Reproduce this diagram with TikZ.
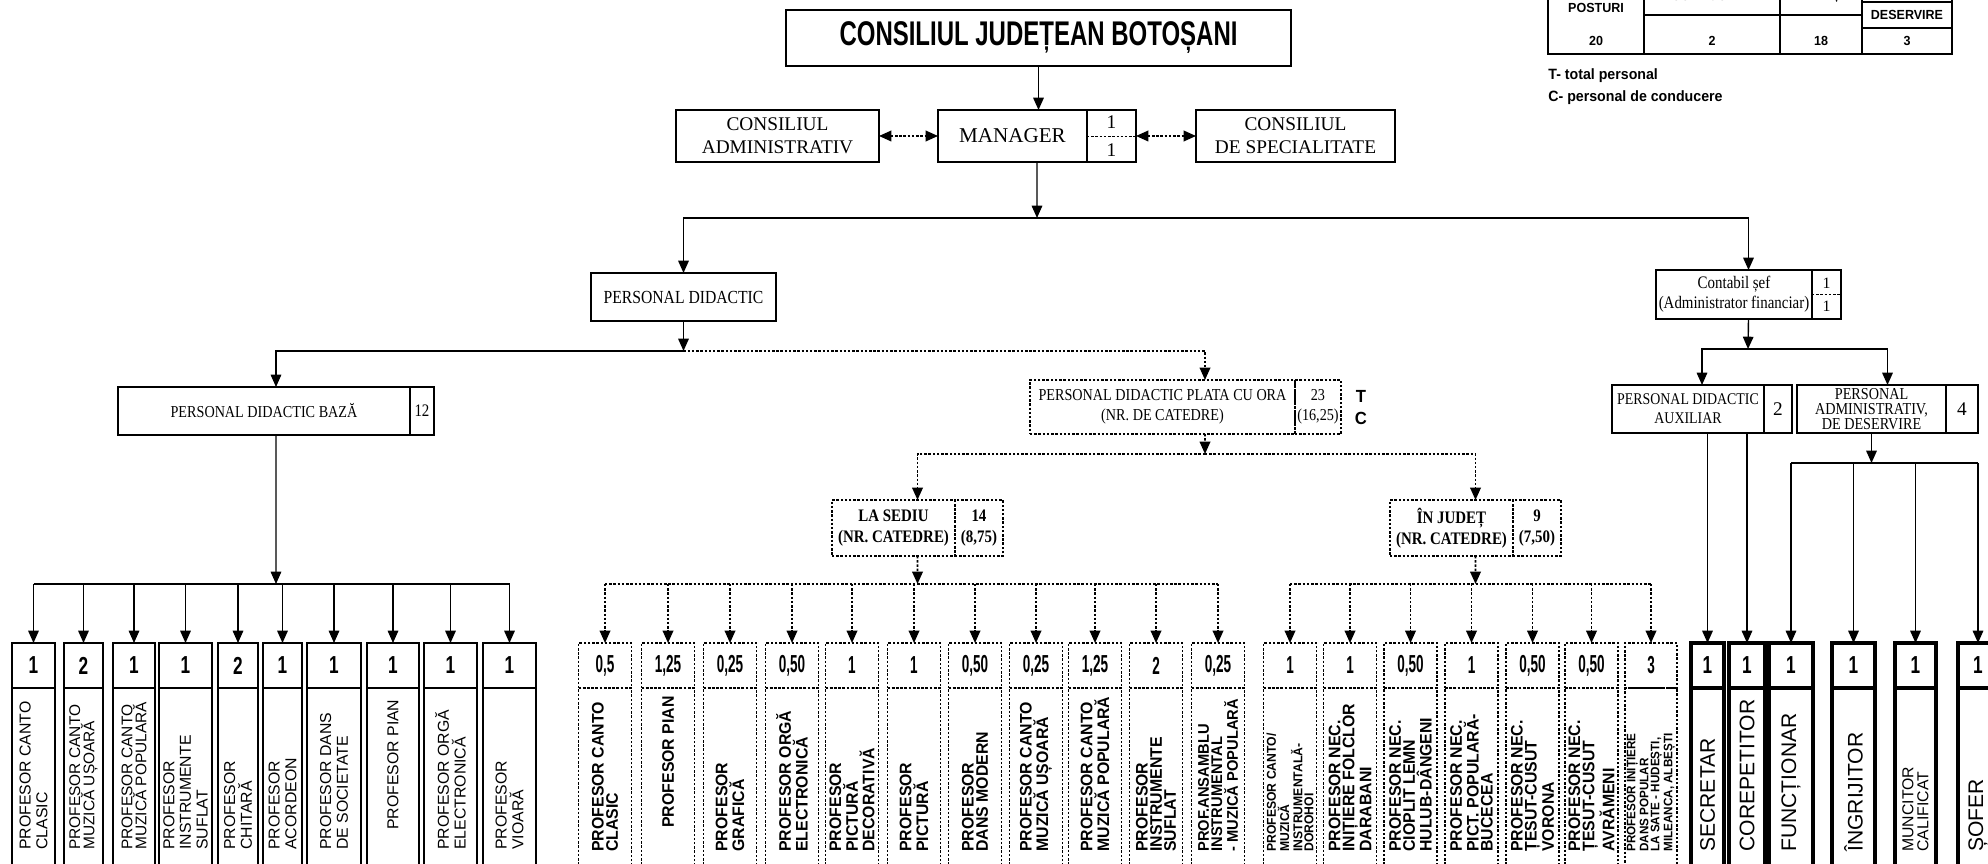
\documentclass[tikz,border=0pt]{standalone}
\usepackage{fontspec}
\setmainfont{Liberation Serif}
\setsansfont{Liberation Sans}
\newfontfamily\serifn[FakeStretch=0.85]{Liberation Serif}
\newfontfamily\conda[FakeStretch=0.7]{Liberation Sans}
\newfontfamily\condb[FakeStretch=0.55]{Liberation Sans}
\newfontfamily\condc[FakeStretch=0.95]{Liberation Sans}
\usetikzlibrary{positioning,arrows.meta,calc}

\tikzset{
  box/.style={draw, line width=1pt, outer sep=0pt, inner sep=1pt, align=center,
    font=\fontsize{11}{13}\selectfont},
  dotline/.style={dash pattern=on 1.4pt off 1pt},
  dbox/.style={box, dotline},
  link/.style={line width=.8pt},
  dlink/.style={line width=1pt, dotline},
  arr/.style={link, -{Triangle[width=6pt,length=7pt]}},
  darr/.style={dlink, -{Triangle[width=6pt,length=7pt]}},
  biarr/.style={dlink, {Triangle[width=6pt,length=7pt]}-{Triangle[width=6pt,length=7pt]}},
  lnum/.style={box, minimum height=.9cm, font=\conda\bfseries\fontsize{14}{14}\selectfont},
  lcell/.style={box, minimum height=3.84cm},
  ltxt/.style={rotate=90, anchor=west, align=left, inner sep=0pt,
    font=\sffamily\fontsize{9}{9.5}\selectfont},
  dnum/.style={lnum, dotline, font=\condb\bfseries\fontsize{14}{14}\selectfont},
  dcell/.style={lcell, dotline},
  dtxt/.style={ltxt, font=\condc\bfseries\fontsize{9.5}{8}\selectfont},
  rnum/.style={lnum, line width=1.8pt},
  rcell/.style={lcell, line width=1.8pt},
  rtxt/.style={ltxt, font=\sffamily\fontsize{12}{12}\selectfont},
  note/.style={inner sep=0pt, font=\condc\bfseries\fontsize{7.5}{9}\selectfont},
}

\begin{document}
\begin{tikzpicture}[x=0.02cm, y=-0.02cm]
    \useasboundingbox (0,0) rectangle (1988,864);
    \fill[white] (0,0) rectangle (1988,864);
    \clip (0,0) rectangle (1988,864);

    % conducere
    \node[box, minimum width=10.1cm, minimum height=1.12cm, font=\conda\bfseries\fontsize{19.5}{22}\selectfont] (cjb) at (1038.5,38) {CONSILIUL JUDEȚEAN BOTOȘANI};
    \node[box, minimum width=4.06cm, minimum height=1.04cm] (cadm) at (777.5,136) {CONSILIUL\\ADMINISTRATIV};
    \node[box, minimum width=2.98cm, minimum height=1.04cm, font=\fontsize{12}{14}\selectfont] (mgr) at (1012.5,136) {MANAGER};
    \node[box, minimum width=.98cm, minimum height=1.04cm, right=0pt of mgr] (mgrn) {1\\[3pt]1};
    \node[box, minimum width=3.98cm, minimum height=1.04cm] (cspec) at (1295.5,136) {CONSILIUL\\DE SPECIALITATE};
    \draw[line width=.5pt, dotline] (mgrn.west) -- (mgrn.east);

    \draw[arr] (cjb.south) -- (cjb.south |- mgr.north);
    \draw[biarr] (cadm.east) -- (mgr.west);
    \draw[biarr] (mgrn.east) -- (cspec.west);

    \node[box, minimum width=3.7cm, minimum height=.96cm, font=\serifn\fontsize{10.5}{12}\selectfont] (pd) at (683.5,297) {PERSONAL DIDACTIC};
    \node[box, minimum width=3.12cm, minimum height=.98cm, font=\serifn\fontsize{10}{11.5}\selectfont] (cont) at (1734,294.5) {Contabil șef\\(Administrator financiar)};
    \node[box, minimum width=.58cm, minimum height=.98cm, right=0pt of cont, font=\fontsize{9}{13}\selectfont] (contn) {1\\1};
    \draw[line width=.5pt, dotline] (contn.west) -- (contn.east);

    \coordinate (mbus) at (1037,218);
    \draw[arr] ($(mgr.south west)!.5!(mgrn.south east)$) -- (mbus);
    \draw[arr] (mbus) -| (pd.north);
    \draw[arr] (mbus) -| ($(cont.north west)!.5!(contn.north east)$);

    % personal didactic
    \node[box, minimum width=5.84cm, minimum height=.96cm, font=\serifn\fontsize{9.5}{11}\selectfont] (baza) at (264,411) {PERSONAL DIDACTIC BAZĂ};
    \node[box, minimum width=.48cm, minimum height=.96cm, right=0pt of baza, font=\serifn\fontsize{10}{11}\selectfont] (bazan) {12};
    \node[dbox, minimum width=5.3cm, minimum height=1.08cm, font=\serifn\fontsize{9.5}{11.5}\selectfont] (plata) at (1162.5,407) {PERSONAL DIDACTIC PLATA CU ORA\\(NR. DE CATEDRE)};
    \node[dbox, minimum width=.92cm, minimum height=1.08cm, right=0pt of plata, font=\serifn\fontsize{9.5}{11.5}\selectfont] (platan) {23\\(16,25)};
    \node[note, font=\condc\bfseries\fontsize{10}{10}\selectfont] (lblT) at (1361,396) {T};
    \node[note, font=\condc\bfseries\fontsize{10}{10}\selectfont] (lblC) at (1361,418) {C};

    \coordinate (pbus) at (683.5,351);
    \draw[arr] (pd.south) -- (pbus);
    \draw[arr] (pbus) -| ($(baza.north west)!.5!(bazan.north east)$);
    \draw[darr] (pbus) -| ([xshift=.85cm]plata.north);

    \node[dbox, minimum width=2.46cm, minimum height=1.12cm, font=\serifn\bfseries\fontsize{10}{12}\selectfont] (sed) at (893.5,528) {LA SEDIU\\(NR. CATEDRE)};
    \node[dbox, minimum width=.96cm, minimum height=1.12cm, right=0pt of sed, font=\serifn\bfseries\fontsize{10}{12}\selectfont] (sedn) {14\\(8,75)};
    \node[dbox, minimum width=2.46cm, minimum height=1.12cm, font=\serifn\bfseries\fontsize{10}{12}\selectfont] (jud) at (1451.5,528) {ÎN JUDEȚ\\(NR. CATEDRE)};
    \node[dbox, minimum width=.96cm, minimum height=1.12cm, right=0pt of jud, font=\serifn\bfseries\fontsize{10}{12}\selectfont] (judn) {9\\(7,50)};

    \coordinate (sbus) at (1205,454);
    \draw[darr] ([xshift=.85cm]plata.south) -- (sbus);
    \draw[darr] (sbus) -| ($(sed.north west)!.5!(sedn.north east)$);
    \draw[darr] (sbus) -| ($(jud.north west)!.5!(judn.north east)$);

    % contabilitate
    \node[box, minimum width=3.04cm, minimum height=.96cm, font=\serifn\fontsize{9.3}{11}\selectfont] (aux) at (1688,409) {PERSONAL DIDACTIC\\AUXILIAR};
    \node[box, minimum width=.56cm, minimum height=.96cm, right=0pt of aux] (auxn) {2};
    \node[box, minimum width=2.98cm, minimum height=.96cm, inner sep=0pt, font=\serifn\fontsize{9.5}{8.6}\selectfont] (adm) at (1871.5,409) {PERSONAL\\ADMINISTRATIV,\\DE DESERVIRE};
    \node[box, minimum width=.64cm, minimum height=.96cm, right=0pt of adm] (admn) {4};

    \coordinate (cbus) at (1748,349);
    \draw[arr] ($(cont.south west)!.5!(contn.south east)$) -- (cbus);
    \draw[arr] (cbus) -| ($(aux.north west)!.5!(auxn.north east)$);
    \draw[arr] (cbus) -| ($(adm.north west)!.5!(admn.north east)$);

    % posturi de baza
    \node[lnum, minimum width=.86cm] (l1) at (33.5,665.5) {1};
    \node[lcell, minimum width=.86cm, below=0pt of l1] (l1c) {};
    \node[ltxt] (l1t) at ([yshift=.6cm]l1c.south) {PROFESOR CANTO\\CLASIC};
    \node[lnum, minimum width=.78cm] (l2) at (83.5,665.5) {2};
    \node[lcell, minimum width=.78cm, below=0pt of l2] (l2c) {};
    \node[ltxt, font=\sffamily\fontsize{8.8}{8}\selectfont] (l2t) at ([yshift=.6cm]l2c.south) {PROFESOR CANTO\\MUZICĂ UȘOARĂ};
    \node[lnum, minimum width=.84cm] (l3) at (134,665.5) {1};
    \node[lcell, minimum width=.84cm, below=0pt of l3] (l3c) {};
    \node[ltxt, font=\sffamily\fontsize{8.8}{8}\selectfont] (l3t) at ([yshift=.6cm]l3c.south) {PROFESOR CANTO\\MUZICĂ POPULARĂ};
    \node[lnum, minimum width=1.06cm] (l4) at (185.5,665.5) {1};
    \node[lcell, minimum width=1.06cm, below=0pt of l4] (l4c) {};
    \node[ltxt] (l4t) at ([yshift=.6cm]l4c.south) {PROFESOR\\INSTRUMENTE\\SUFLAT};
    \node[lnum, minimum width=.8cm] (l5) at (238,665.5) {2};
    \node[lcell, minimum width=.8cm, below=0pt of l5] (l5c) {};
    \node[ltxt] (l5t) at ([yshift=.6cm]l5c.south) {PROFESOR\\CHITARĂ};
    \node[lnum, minimum width=.78cm] (l6) at (282.5,665.5) {1};
    \node[lcell, minimum width=.78cm, below=0pt of l6] (l6c) {};
    \node[ltxt] (l6t) at ([yshift=.6cm]l6c.south) {PROFESOR\\ACORDEON};
    \node[lnum, minimum width=1.08cm] (l7) at (334,665.5) {1};
    \node[lcell, minimum width=1.08cm, below=0pt of l7] (l7c) {};
    \node[ltxt] (l7t) at ([yshift=.6cm]l7c.south) {PROFESOR DANS\\DE SOCIETATE};
    \node[lnum, minimum width=1.04cm] (l8) at (393,665.5) {1};
    \node[lcell, minimum width=1.04cm, below=0pt of l8] (l8c) {};
    \node[ltxt] (l8t) at ([yshift=1.0cm]l8c.south) {PROFESOR PIAN};
    \node[lnum, minimum width=1.06cm] (l9) at (450.5,665.5) {1};
    \node[lcell, minimum width=1.06cm, below=0pt of l9] (l9c) {};
    \node[ltxt] (l9t) at ([yshift=.6cm]l9c.south) {PROFESOR ORGĂ\\ELECTRONICĂ};
    \node[lnum, minimum width=1.06cm] (l10) at (509.5,665.5) {1};
    \node[lcell, minimum width=1.06cm, below=0pt of l10] (l10c) {};
    \node[ltxt] (l10t) at ([yshift=.6cm]l10c.south) {PROFESOR\\VIOARĂ};

    \coordinate (lbus) at (276,584);
    \draw[arr] ($(baza.south west)!.5!(bazan.south east)$) -- (lbus);
    \draw[link] (l1.north |- lbus) -- (l10.north |- lbus);
    \draw[arr] (l1.north |- lbus) -- (l1.north);
    \draw[arr] (l2.north |- lbus) -- (l2.north);
    \draw[arr] (l3.north |- lbus) -- (l3.north);
    \draw[arr] (l4.north |- lbus) -- (l4.north);
    \draw[arr] (l5.north |- lbus) -- (l5.north);
    \draw[arr] (l6.north |- lbus) -- (l6.north);
    \draw[arr] (l7.north |- lbus) -- (l7.north);
    \draw[arr] (l8.north |- lbus) -- (l8.north);
    \draw[arr] (l9.north |- lbus) -- (l9.north);
    \draw[arr] (l10.north |- lbus) -- (l10.north);

    % la sediu
    \node[dnum, minimum width=1.06cm] (s1) at (605,665.5) {0,5};
    \node[dcell, minimum width=1.06cm, below=0pt of s1] (s1c) {};
    \node[dtxt] (s1t) at ([yshift=.56cm]s1c.south) {PROFESOR CANTO\\CLASIC};
    \node[dnum, minimum width=1.06cm] (s2) at (668,665.5) {1,25};
    \node[dcell, minimum width=1.06cm, below=0pt of s2] (s2c) {};
    \node[dtxt] (s2t) at ([yshift=1.04cm]s2c.south) {PROFESOR PIAN};
    \node[dnum, minimum width=1.06cm] (s3) at (730,665.5) {0,25};
    \node[dcell, minimum width=1.06cm, below=0pt of s3] (s3c) {};
    \node[dtxt] (s3t) at ([yshift=.56cm]s3c.south) {PROFESOR\\GRAFICĂ};
    \node[dnum, minimum width=1.06cm] (s4) at (792,665.5) {0,50};
    \node[dcell, minimum width=1.06cm, below=0pt of s4] (s4c) {};
    \node[dtxt] (s4t) at ([yshift=.56cm]s4c.south) {PROFESOR ORGĂ\\ELECTRONICĂ};
    \node[dnum, minimum width=1.06cm] (s5) at (852,665.5) {1};
    \node[dcell, minimum width=1.06cm, below=0pt of s5] (s5c) {};
    \node[dtxt] (s5t) at ([yshift=.56cm]s5c.south) {PROFESOR\\PICTURĂ\\DECORATIVĂ};
    \node[dnum, minimum width=1.06cm] (s6) at (914,665.5) {1};
    \node[dcell, minimum width=1.06cm, below=0pt of s6] (s6c) {};
    \node[dtxt] (s6t) at ([yshift=.56cm]s6c.south) {PROFESOR\\PICTURĂ};
    \node[dnum, minimum width=1.06cm] (s7) at (975,665.5) {0,50};
    \node[dcell, minimum width=1.06cm, below=0pt of s7] (s7c) {};
    \node[dtxt] (s7t) at ([yshift=.56cm]s7c.south) {PROFESOR\\DANS MODERN};
    \node[dnum, minimum width=1.06cm] (s8) at (1036,665.5) {0,25};
    \node[dcell, minimum width=1.06cm, below=0pt of s8] (s8c) {};
    \node[dtxt] (s8t) at ([yshift=.56cm]s8c.south) {PROFESOR CANTO\\MUZICĂ UȘOARĂ};
    \node[dnum, minimum width=1.06cm] (s9) at (1095,665.5) {1,25};
    \node[dcell, minimum width=1.06cm, below=0pt of s9] (s9c) {};
    \node[dtxt] (s9t) at ([yshift=.56cm]s9c.south) {PROFESOR CANTO\\MUZICĂ POPULARĂ};
    \node[dnum, minimum width=1.06cm] (s10) at (1156,665.5) {2};
    \node[dcell, minimum width=1.06cm, below=0pt of s10] (s10c) {};
    \node[dtxt] (s10t) at ([yshift=.56cm]s10c.south) {PROFESOR\\INSTRUMENTE\\SUFLAT};
    \node[dnum, minimum width=1.06cm] (s11) at (1218,665.5) {0,25};
    \node[dcell, minimum width=1.06cm, below=0pt of s11] (s11c) {};
    \node[dtxt, font=\condc\bfseries\fontsize{8.8}{7.6}\selectfont] (s11t) at ([yshift=.56cm]s11c.south) {PROF.ANSAMBLU\\INSTRUMENTAL\\- MUZICĂ POPULARĂ};

    \coordinate (sdbus) at (917.5,584);
    \draw[darr] ($(sed.south west)!.5!(sedn.south east)$) -- (sdbus);
    \draw[dlink] (s1.north |- sdbus) -- (s11.north |- sdbus);
    \draw[darr] (s1.north |- sdbus) -- (s1.north);
    \draw[darr] (s2.north |- sdbus) -- (s2.north);
    \draw[darr] (s3.north |- sdbus) -- (s3.north);
    \draw[darr] (s4.north |- sdbus) -- (s4.north);
    \draw[darr] (s5.north |- sdbus) -- (s5.north);
    \draw[darr] (s6.north |- sdbus) -- (s6.north);
    \draw[darr] (s7.north |- sdbus) -- (s7.north);
    \draw[darr] (s8.north |- sdbus) -- (s8.north);
    \draw[darr] (s9.north |- sdbus) -- (s9.north);
    \draw[darr] (s10.north |- sdbus) -- (s10.north);
    \draw[darr] (s11.north |- sdbus) -- (s11.north);

    % in judet
    \node[dnum, minimum width=1.06cm] (j1) at (1290,665.5) {1};
    \node[dcell, minimum width=1.06cm, below=0pt of j1] (j1c) {};
    \node[dtxt, font=\condc\bfseries\fontsize{7.3}{6.2}\selectfont] (j1t) at ([yshift=.56cm]j1c.south) {PROFESOR CANTO/\\MUZICĂ\\INSTRUMENTALĂ-\\DOROHOI};
    \node[dnum, minimum width=1.06cm] (j2) at (1350,665.5) {1};
    \node[dcell, minimum width=1.06cm, below=0pt of j2] (j2c) {};
    \node[dtxt] (j2t) at ([yshift=.56cm]j2c.south) {PROFESOR NEC.\\INIȚIERE FOLCLOR\\DARABANI};
    \node[dnum, minimum width=1.06cm] (j3) at (1410.5,665.5) {0,50};
    \node[dcell, minimum width=1.06cm, below=0pt of j3] (j3c) {};
    \node[dtxt] (j3t) at ([yshift=.56cm]j3c.south) {PROFESOR NEC.\\CIOPLIT LEMN\\HULUB-DÂNGENI};
    \node[dnum, minimum width=1.06cm] (j4) at (1471.5,665.5) {1};
    \node[dcell, minimum width=1.06cm, below=0pt of j4] (j4c) {};
    \node[dtxt] (j4t) at ([yshift=.56cm]j4c.south) {PROFESOR NEC.\\PICT. POPULARĂ-\\BUCECEA};
    \node[dnum, minimum width=1.06cm] (j5) at (1532.5,665.5) {0,50};
    \node[dcell, minimum width=1.06cm, below=0pt of j5] (j5c) {};
    \node[dtxt] (j5t) at ([yshift=.56cm]j5c.south) {PROFESOR NEC.\\ȚESUT-CUSUT\\VORONA};
    \node[dnum, minimum width=1.06cm] (j6) at (1591.5,665.5) {0,50};
    \node[dcell, minimum width=1.06cm, below=0pt of j6] (j6c) {};
    \node[dtxt] (j6t) at ([yshift=.56cm]j6c.south) {PROFESOR NEC.\\ȚESUT-CUSUT\\AVRĂMENI};
    \node[dnum, minimum width=1.04cm] (j7) at (1651,665.5) {3};
    \node[dcell, minimum width=1.04cm, below=0pt of j7] (j7c) {};
    \node[dtxt, font=\condc\bfseries\fontsize{7}{6.2}\selectfont] (j7t) at ([yshift=.56cm]j7c.south) {PROFESOR INIȚIERE\\DANS POPULAR\\LA SATE - HUDEȘTI,\\MILEANCA, ALBEȘTI};

    \coordinate (jdbus) at (1475.5,584);
    \draw[darr] ($(jud.south west)!.5!(judn.south east)$) -- (jdbus);
    \draw[dlink] (j1.north |- jdbus) -- (j7.north |- jdbus);
    \draw[darr] (j1.north |- jdbus) -- (j1.north);
    \draw[darr] (j2.north |- jdbus) -- (j2.north);
    \draw[darr] (j3.north |- jdbus) -- (j3.north);
    \draw[darr] (j4.north |- jdbus) -- (j4.north);
    \draw[darr] (j5.north |- jdbus) -- (j5.north);
    \draw[darr] (j6.north |- jdbus) -- (j6.north);
    \draw[darr] (j7.north |- jdbus) -- (j7.north);

    % auxiliar si administrativ
    \node[rnum, minimum width=.66cm] (r1) at (1707.5,665.5) {1};
    \node[rcell, minimum width=.66cm, below=0pt of r1] (r1c) {};
    \node[rtxt] (r1t) at ([yshift=.56cm]r1c.south) {SECRETAR};
    \node[rnum, minimum width=.72cm] (r2) at (1747,665.5) {1};
    \node[rcell, minimum width=.72cm, below=0pt of r2] (r2c) {};
    \node[rtxt] (r2t) at ([yshift=.56cm]r2c.south) {COREPETITOR};
    \node[rnum, minimum width=.88cm] (r3) at (1791,665.5) {1};
    \node[rcell, minimum width=.88cm, below=0pt of r3] (r3c) {};
    \node[rtxt] (r3t) at ([yshift=.56cm]r3c.south) {FUNCȚIONAR};
    \node[rnum, minimum width=.86cm] (r4) at (1853.5,665.5) {1};
    \node[rcell, minimum width=.86cm, below=0pt of r4] (r4c) {};
    \node[rtxt] (r4t) at ([yshift=.56cm]r4c.south) {ÎNGRIJITOR};
    \node[rnum, minimum width=.82cm] (r5) at (1915.5,665.5) {1};
    \node[rcell, minimum width=.82cm, below=0pt of r5] (r5c) {};
    \node[rtxt, font=\sffamily\fontsize{9}{8.5}\selectfont] (r5t) at ([yshift=.56cm]r5c.south) {MUNCITOR\\CALIFICAT};
    \node[rnum, minimum width=.8cm] (r6) at (1978,665.5) {1};
    \node[rcell, minimum width=.8cm, below=0pt of r6] (r6c) {};
    \node[rtxt] (r6t) at ([yshift=.56cm]r6c.south) {ȘOFER};

    \draw[arr] (aux.south -| r1.north) -- (r1.north);
    \draw[arr] (aux.south -| r2.north) -- (r2.north);
    \coordinate (abus) at (1871.5,463);
    \draw[arr] (adm.south) -- (abus);
    \draw[link] (r3.north |- abus) -- (r6.north |- abus);
    \draw[arr] (r3.north |- abus) -- (r3.north);
    \draw[arr] (r4.north |- abus) -- (r4.north);
    \draw[arr] (r5.north |- abus) -- (r5.north);
    \draw[arr] (r6.north |- abus) -- (r6.north);

    % tabel posturi
    \draw[line width=1pt] (1548,-20) -- (1548,54) -- (1952,54) -- (1952,-20);
    \draw[line width=1pt] (1644,-20) -- (1644,54) (1780,-20) -- (1780,54) (1862,-20) -- (1862,54);
    \draw[line width=1pt] (1644,15) -- (1862,15);
    \draw[line width=.8pt] (1862,2) -- (1952,2) (1862,28) -- (1952,28);
    \node[note] (tpost) at (1596,8) {POSTURI};
    \node[note] (tcond) at (1712,-4) {CONDUCERE};
    \node[note] (texec) at (1821,-4) {EXECUȚIE};
    \node[note] (tdes) at (1907,15) {DESERVIRE};
    \node[note] (tv1) at (1596,41) {20};
    \node[note] (tv2) at (1712,41) {2};
    \node[note] (tv3) at (1821,41) {18};
    \node[note] (tv4) at (1907,41) {3};
    \node[note, anchor=west, font=\condc\bfseries\fontsize{8.5}{9}\selectfont] (legT) at (1548,76) {T- total personal};
    \node[note, anchor=west, font=\condc\bfseries\fontsize{8.5}{9}\selectfont] (legC) at (1548,98) {C- personal de conducere};

\end{tikzpicture}
\end{document}
